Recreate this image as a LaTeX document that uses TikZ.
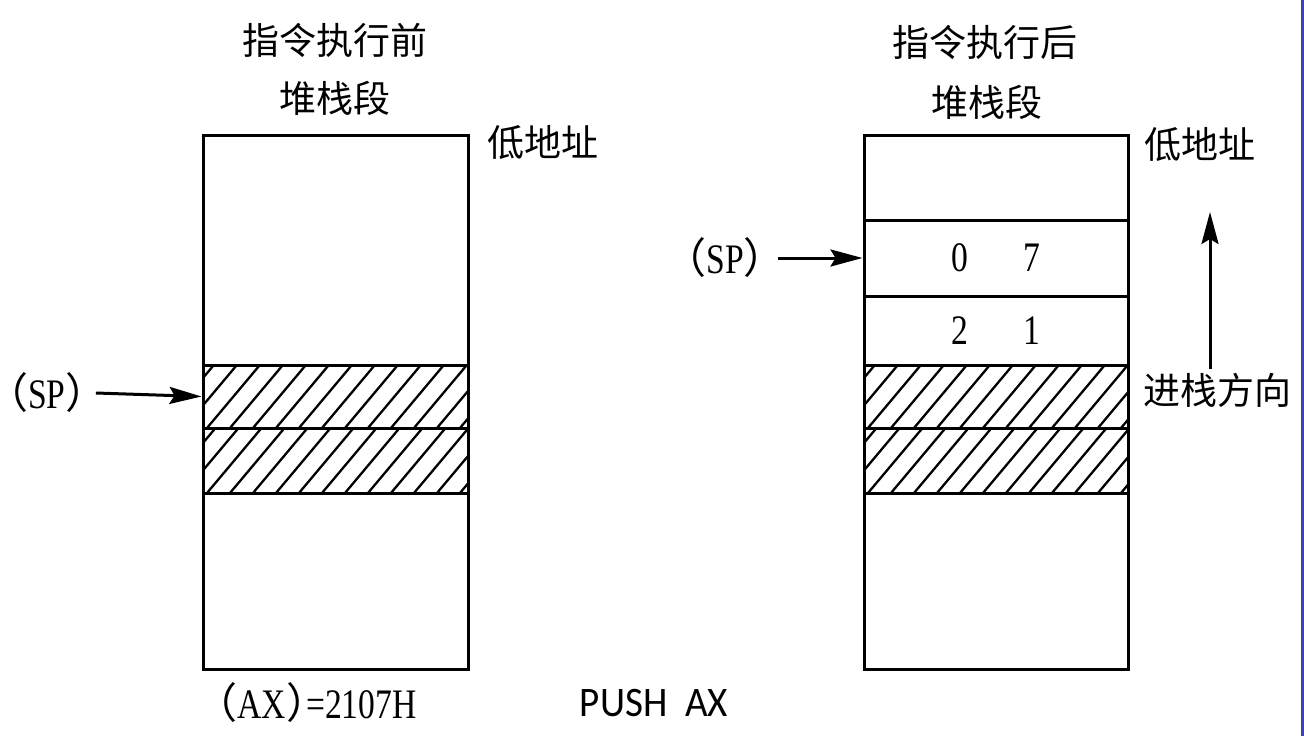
\documentclass[tikz,border=0pt]{standalone}
\usepackage{fontspec}
\setmainfont[FakeStretch=0.8]{Liberation Serif}
\newfontfamily\cjk{Noto Sans CJK SC}
\newfontfamily\pushfont[FakeStretch=0.93]{Carlito}
\usetikzlibrary{arrows.meta}
\newcommand{\lpar}{{\cjk\kern-0.38em（}}
\newcommand{\rpar}{{\cjk）\kern-0.38em}}

\begin{document}
\begin{tikzpicture}[x=1pt,y=-1pt,
  cell/.style={shape=rectangle,draw,line width=3pt,minimum width=265pt},
  hatch/.style={path picture={
    \foreach \k in {-3,...,12}
      \draw[line width=2.3pt] ([xshift=4pt+\k*23pt]path picture bounding box.south west) -- ++(60pt,71.5pt);}},
  cn/.style={font=\cjk\fontsize{37}{44}\selectfont},
  lat/.style={font=\fontsize{42}{48}\selectfont},
  ptr/.style={-{Stealth[length=32pt,width=17pt,inset=5pt]},line width=3pt}]
\definecolor{sb_blue}{RGB}{58,66,186}
\useasboundingbox (0,0) rectangle (1304,736);
\fill[sb_blue] (1301,0) rectangle (1304,736);

% before the instruction
\node[cn] (titleL) at (335,40) {指令执行前};
\node[cn] (segL) at (335,98) {堆栈段};
\node[cn] (lowL) at (543,143) {低地址};
\node[cell,minimum height=230pt] (cL1) at (335.5,250) {};
\node[cell,hatch,minimum height=63pt] (cL2) at (335.5,396.5) {};
\node[cell,hatch,minimum height=65pt] (cL3) at (335.5,460.5) {};
\node[cell,minimum height=176pt] (cL4) at (335.5,581) {};

\node[lat,inner sep=4pt] (spL) at (47,393) {\lpar SP\rpar};
\draw[ptr] (spL.east) to (cL2.west);

% after the instruction
\node[cn] (titleR) at (985,42) {指令执行后};
\node[cn] (segR) at (987,102) {堆栈段};
\node[cn] (lowR) at (1200,145) {低地址};
\node[cell,minimum width=264pt,minimum height=85pt] (cR1) at (996,177.5) {};
\node[cell,lat,minimum width=264pt,minimum height=76pt] (cR2) at (996,258) {0\hspace{55pt}7};
\node[cell,lat,minimum width=264pt,minimum height=69pt] (cR3) at (996,330.5) {2\hspace{55pt}1};
\node[cell,hatch,minimum width=264pt,minimum height=63pt] (cR4) at (996,396.5) {};
\node[cell,hatch,minimum width=264pt,minimum height=65pt] (cR5) at (996,460.5) {};
\node[cell,minimum width=264pt,minimum height=176pt] (cR6) at (996,581) {};

\node[lat,inner sep=4pt] (spR) at (725,258) {\lpar SP\rpar};
\draw[ptr] (spR.east) ++(4pt,0pt) to (cR2.west);

\node[cn] (dir) at (1217,390) {进栈方向};
\coordinate (dirtop) at (1210,212);
\draw[ptr] (dir.north -| dirtop) to (dirtop);

\node[lat] (axL) at (314,703) {\lpar AX\rpar\kern-6pt=2107H};
\node[font=\pushfont\fontsize{42}{48}\selectfont] (push) at (654,703) {PUSH\ \ AX};
\end{tikzpicture}
\end{document}
